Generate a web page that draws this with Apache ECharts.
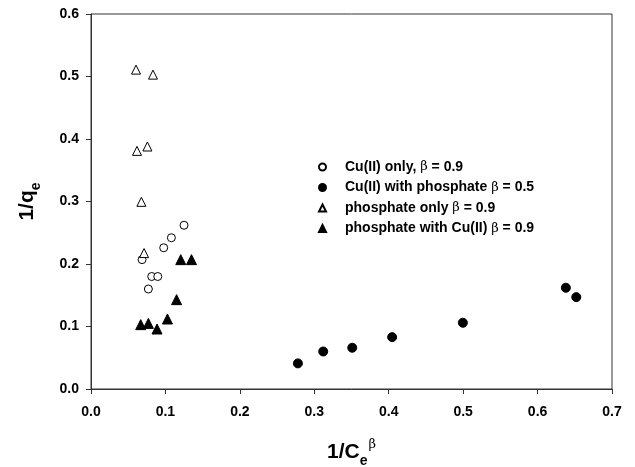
<!DOCTYPE html>
<html>
<head>
<meta charset="utf-8">
<script src="https://cdn.jsdelivr.net/npm/echarts@6/dist/echarts.min.js"></script>
<style>
html,body{margin:0;padding:0;background:#fff;}
#main{width:635px;height:467px;}
</style>
</head>
<body>
<div id="main"></div>
<script>
//数据
var cuOnlyX=[0.0686,0.0771,0.0816,0.0897,0.0977,0.108,0.125];
var cuOnlyY=[0.207,0.160,0.180,0.180,0.226,0.242,0.262];
var cuPhosX=[0.278,0.312,0.351,0.4046,0.4996,0.638,0.652];
var cuPhosY=[0.041,0.060,0.066,0.083,0.106,0.162,0.147];
var phosOnlyX=[0.0605,0.0833,0.0618,0.0758,0.0677,0.0713];
var phosOnlyY=[0.511,0.503,0.381,0.388,0.2995,0.2175];
var phosCuX=[0.0668,0.0771,0.0887,0.1027,0.115,0.1206,0.135];
var phosCuY=[0.103,0.105,0.096,0.112,0.143,0.207,0.207];
var seriesNames=['Cu(II) only, β = 0.9','Cu(II) with phosphate β = 0.5','phosphate only β = 0.9','phosphate with Cu(II) β = 0.9'];

var pairs=function (xs,ys) {
	var out=[];
	for(var i=0;i<xs.length;i++){ out.push([xs[i],ys[i]]); }
	return out;
};

var myChart=echarts.init(document.getElementById('main'));
var fontFam='Arial, "Liberation Sans", sans-serif';
var option={
	backgroundColor:'#ffffff',
	animation:false,
	grid:{
		left:91,
		right:23,
		top:14,
		bottom:78,
		outerBoundsMode:'none',
		containLabel:false,
		show:true,
		borderColor:'#333',
		borderWidth:1
	},
	legend:{
		orient:'vertical',
		left:313,
		top:155,
		itemWidth:7,
		itemHeight:7,
		itemGap:6.5,
		data:seriesNames,
		formatter:function (name) {
			return name.replace('β','{g|β}');
		},
		textStyle:{
			color:'#000',
			fontFamily:fontFam,
			fontWeight:'bold',
			fontSize:14,
			lineHeight:14,
			padding:[0,0,0,14],
			rich:{
				g:{fontFamily:'"DejaVu Serif", serif',fontWeight:'normal',fontSize:13,lineHeight:14,color:'#000'}
			}
		}
	},
	xAxis:{
		type:'value',
		min:0,
		max:0.7,
		interval:0.1,
		name:'{a|1/C}{s|e}{p|β}',
		nameLocation:'middle',
		nameGap:49,
		nameTextStyle:{
			rich:{
				a:{fontFamily:fontFam,fontWeight:'bold',fontSize:21,color:'#000',verticalAlign:'bottom'},
				s:{fontFamily:fontFam,fontWeight:'bold',fontSize:14,color:'#000',verticalAlign:'bottom',padding:[0,0,-5,0]},
				p:{fontFamily:'"DejaVu Serif", serif',fontSize:13,color:'#000',verticalAlign:'bottom',padding:[0,0,12,1]}
			}
		},
		splitLine:{show:false},
		axisLine:{lineStyle:{color:'#333'}},
		axisTick:{inside:false,length:5,lineStyle:{color:'#333'}},
		axisLabel:{
			margin:16,
			color:'#000',
			fontFamily:fontFam,
			fontWeight:'bold',
			fontSize:14,
			formatter:function (v) { return v.toFixed(1); }
		}
	},
	yAxis:{
		type:'value',
		min:0,
		max:0.6,
		interval:0.1,
		name:'{a|1/q}{s|e}',
		nameLocation:'middle',
		nameGap:53,
		nameRotate:90,
		nameTextStyle:{
			rich:{
				a:{fontFamily:fontFam,fontWeight:'bold',fontSize:21,color:'#000',verticalAlign:'bottom'},
				s:{fontFamily:fontFam,fontWeight:'bold',fontSize:14,color:'#000',verticalAlign:'bottom',padding:[0,0,-5,0]}
			}
		},
		splitLine:{show:false},
		axisLine:{lineStyle:{color:'#333'}},
		axisTick:{inside:false,length:5,lineStyle:{color:'#333'}},
		axisLabel:{
			margin:12,
			color:'#000',
			fontFamily:fontFam,
			fontWeight:'bold',
			fontSize:14,
			formatter:function (v) { return v.toFixed(1); }
		}
	},
	series:[
		{
			name:seriesNames[0],
			type:'scatter',
			symbol:'circle',
			symbolSize:8,
			itemStyle:{color:'#ffffff',borderColor:'#000',borderWidth:1,opacity:1},
			data:pairs(cuOnlyX,cuOnlyY)
		},
		{
			name:seriesNames[1],
			type:'scatter',
			symbol:'circle',
			symbolSize:9,
			itemStyle:{color:'#000',borderColor:'#000',borderWidth:1,opacity:1},
			data:pairs(cuPhosX,cuPhosY)
		},
		{
			name:seriesNames[2],
			type:'scatter',
			symbol:'triangle',
			symbolSize:9,
			itemStyle:{color:'#ffffff',borderColor:'#000',borderWidth:1,opacity:1},
			data:pairs(phosOnlyX,phosOnlyY)
		},
		{
			name:seriesNames[3],
			type:'scatter',
			symbol:'triangle',
			symbolSize:10,
			itemStyle:{color:'#000',borderColor:'#000',borderWidth:1,opacity:1},
			data:pairs(phosCuX,phosCuY)
		}
	]
};
myChart.setOption(option);
</script>
</body>
</html>
